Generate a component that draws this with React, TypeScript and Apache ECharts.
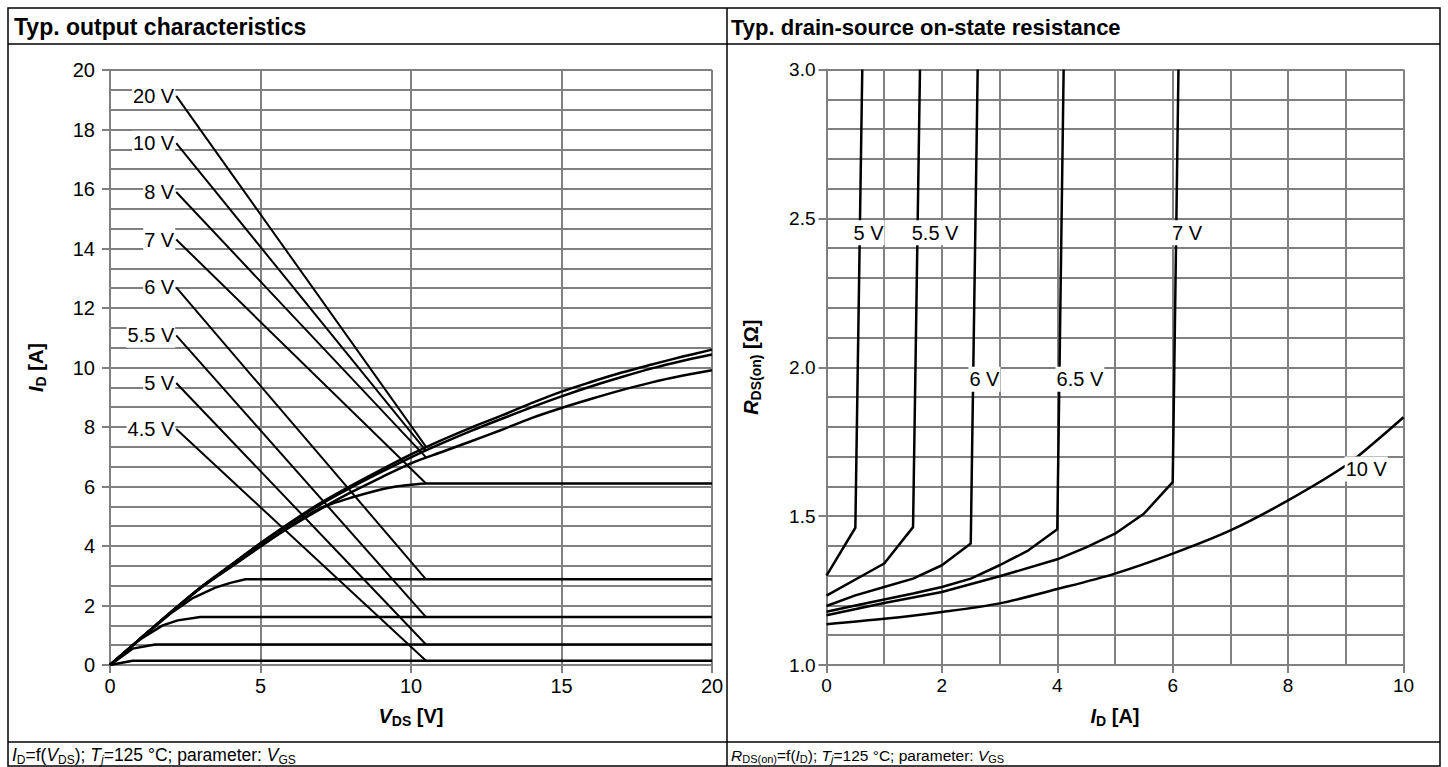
import React, { useEffect, useRef } from "react";
import * as echarts from "echarts";

const FONT = "'Liberation Sans', Arial, Helvetica, sans-serif";
const GRID_COLOR = "#808080";

// ---------------- Left chart: typ. output characteristics, ID = f(VDS) ----------------
const leftXTicks = [0, 5, 10, 15, 20];
const leftYTicks = [0, 2, 4, 6, 8, 10, 12, 14, 16, 18, 20];

const id_vgs20 = [[0, 0], [1, 0.88], [2, 1.76], [3, 2.6], [4, 3.35], [5, 4.1], [6, 4.8], [7, 5.45], [8, 6.02], [9, 6.56], [10, 7.08], [11, 7.55], [12, 7.98], [13, 8.38], [14, 8.8], [15, 9.19], [16, 9.52], [17, 9.83], [18, 10.1], [19, 10.36], [20, 10.6]];
const id_vgs10 = [[0, 0], [1, 0.88], [2, 1.76], [3, 2.6], [4, 3.34], [5, 4.08], [6, 4.77], [7, 5.4], [8, 5.96], [9, 6.48], [10, 6.98], [11, 7.44], [12, 7.87], [13, 8.27], [14, 8.66], [15, 9.03], [16, 9.37], [17, 9.68], [18, 9.97], [19, 10.22], [20, 10.44]];
const id_vgs8 = [[0, 0], [1, 0.88], [2, 1.75], [3, 2.58], [4, 3.3], [5, 4.0], [6, 4.65], [7, 5.25], [8, 5.8], [9, 6.3], [10, 6.78], [11, 7.15], [12, 7.52], [13, 7.9], [14, 8.3], [15, 8.64], [16, 8.95], [17, 9.24], [18, 9.5], [19, 9.72], [20, 9.91]];
const id_vgs7 = [[0, 0], [1, 0.88], [2, 1.75], [3, 2.58], [4, 3.28], [5, 3.98], [6, 4.68], [7, 5.28], [8, 5.62], [9, 5.9], [9.5, 6.0], [10, 6.06], [10.5, 6.1], [20, 6.1]];
const id_vgs6 = [[0, 0], [1, 0.88], [2, 1.72], [2.75, 2.25], [3.5, 2.6], [4, 2.76], [4.5, 2.88], [20, 2.88]];
const id_vgs55 = [[0, 0], [1, 0.86], [1.75, 1.33], [2.25, 1.5], [3, 1.61], [20, 1.61]];
const id_vgs5 = [[0, 0], [0.75, 0.55], [1.5, 0.69], [20, 0.69]];
const id_vgs45 = [[0, 0], [0.75, 0.14], [20, 0.14]];

const leftLabels = ["20 V", "10 V", "8 V", "7 V", "6 V", "5.5 V", "5 V", "4.5 V"];
const leaderStartX = 2.2;
const leaderStartY = [19.13, 17.54, 15.9, 14.3, 12.69, 11.08, 9.48, 7.93];
const leaderEndX = 10.5;
const leaderEndY = [7.33, 7.2, 6.98, 6.1, 2.88, 1.61, 0.69, 0.14];

// ---------------- Right chart: typ. drain-source on-state resistance, RDS(on) = f(ID) ----------------
const rightXTicks = [0, 2, 4, 6, 8, 10];
const rightYTicks = [1.0, 1.5, 2.0, 2.5, 3.0];

const r_vgs5 = [[0, 1.3], [0.5, 1.461], [0.62, 3.0]];
const r_vgs55 = [[0, 1.233], [1, 1.341], [1.5, 1.463], [1.62, 3.0]];
const r_vgs6 = [[0, 1.198], [0.5, 1.234], [1, 1.262], [1.5, 1.29], [2, 1.335], [2.5, 1.408], [2.62, 3.0]];
const r_vgs65 = [[0, 1.179], [0.5, 1.2], [1, 1.22], [1.5, 1.24], [2, 1.262], [2.5, 1.29], [3, 1.335], [3.5, 1.385], [4, 1.456], [4.11, 3.0]];
const r_vgs7 = [[0, 1.167], [1, 1.208], [2, 1.245], [3, 1.298], [4, 1.355], [4.5, 1.395], [5, 1.441], [5.5, 1.508], [6, 1.614], [6.1, 3.0]];
const r_vgs10 = [[0, 1.137], [1, 1.155], [2, 1.178], [3, 1.207], [4, 1.255], [5, 1.307], [6, 1.374], [7, 1.452], [8, 1.553], [9, 1.67], [9.5, 1.748], [10, 1.832]];

const rightLabels = ["5 V", "5.5 V", "7 V", "6 V", "6.5 V", "10 V"];
const rightLabelX = [0.45, 1.46, 5.97, 2.46, 3.97, 8.98];
const rightLabelY = [2.452, 2.452, 2.452, 1.96, 1.96, 1.658];

// ---------------- helpers ----------------
const nameRich = {
  b: { fontSize: 20, fontWeight: "bold", fontFamily: FONT, color: "#000", lineHeight: 24 },
  bi: { fontSize: 20, fontWeight: "bold", fontStyle: "italic", fontFamily: FONT, color: "#000", lineHeight: 24 },
  bs: { fontSize: 14, fontWeight: "bold", fontFamily: FONT, color: "#000", lineHeight: 16, verticalAlign: "bottom" },
};

function footRich(size: number) {
  const sub = Math.round(size * 0.7);
  return {
    n: { fontSize: size, fontFamily: FONT, color: "#000", lineHeight: size + 4 },
    i: { fontSize: size, fontStyle: "italic", fontFamily: FONT, color: "#000", lineHeight: size + 4 },
    s: { fontSize: sub, fontFamily: FONT, color: "#000", lineHeight: sub + 2, verticalAlign: "bottom" },
    si: { fontSize: sub, fontStyle: "italic", fontFamily: FONT, color: "#000", lineHeight: sub + 2, verticalAlign: "bottom" },
  };
}

function valueAxis(gridIndex: number, ticks: number[], minorSplit: number, labelSize: number, labelMargin: number, opts: any) {
  return {
    type: "value",
    gridIndex,
    min: ticks[0],
    max: ticks[ticks.length - 1],
    interval: ticks[1] - ticks[0],
    axisLine: { show: true, onZero: false, lineStyle: { color: GRID_COLOR, width: 2 } },
    axisTick: { show: true, length: 8, lineStyle: { color: GRID_COLOR, width: 2 } },
    splitLine: { show: true, lineStyle: { color: GRID_COLOR, width: 2 } },
    minorTick: { show: false, splitNumber: minorSplit },
    minorSplitLine: { show: minorSplit > 1, lineStyle: { color: GRID_COLOR, width: 2 } },
    axisLabel: { fontSize: labelSize, color: "#000", fontFamily: FONT, margin: labelMargin },
    nameLocation: "middle",
    nameTextStyle: { rich: nameRich },
    ...opts,
  };
}

function curve(data: number[][], idx: number, smooth: number | boolean = false, width = 2.5) {
  return {
    type: "line",
    xAxisIndex: idx,
    yAxisIndex: idx,
    data,
    symbol: "none",
    smooth,
    silent: true,
    lineStyle: { color: "#000", width },
    z: 3,
  };
}

function labelSeries(idx: number, names: string[], xs: number[], ys: number[], position: string, distance: number, size: number) {
  return {
    type: "scatter",
    xAxisIndex: idx,
    yAxisIndex: idx,
    symbolSize: 0,
    silent: true,
    itemStyle: { color: "#000", opacity: 1 },
    data: names.map((n, i) => ({ name: n, value: [xs[i], ys[i]] })),
    label: {
      show: true,
      position,
      distance,
      formatter: "{b}",
      fontSize: size,
      fontFamily: FONT,
      color: "#000",
      opacity: 1,
      textBorderWidth: 0,
      backgroundColor: "#fff",
      padding: [3, 1, 2, 1],
    },
    z: 6,
  };
}

function buildOption() {
  const series: any[] = [];
  // left curves
  series.push(curve(id_vgs20, 0, 0.3));
  series.push(curve(id_vgs10, 0, 0.3));
  series.push(curve(id_vgs8, 0, 0.3));
  series.push(curve(id_vgs7, 0, 0.2));
  series.push(curve(id_vgs6, 0));
  series.push(curve(id_vgs55, 0));
  series.push(curve(id_vgs5, 0));
  series.push(curve(id_vgs45, 0));
  // leader lines
  leftLabels.forEach((_, i) => {
    series.push(curve([[leaderStartX, leaderStartY[i]], [leaderEndX, leaderEndY[i]]], 0, false, 2));
  });
  series.push(labelSeries(0, leftLabels, leftLabels.map(() => leaderStartX), leaderStartY, "left", 1, 20));

  // right curves
  series.push(curve(r_vgs5, 1));
  series.push(curve(r_vgs55, 1));
  series.push(curve(r_vgs6, 1));
  series.push(curve(r_vgs65, 1));
  series.push(curve(r_vgs7, 1));
  series.push(curve(r_vgs10, 1, 0.3));
  series.push(labelSeries(1, rightLabels, rightLabelX, rightLabelY, "right", 0, 20));

  return {
    animation: false,
    backgroundColor: "#fff",
    grid: [
      { left: 110, top: 70, width: 602, height: 595, containLabel: false },
      { left: 826.5, top: 69.5, width: 577, height: 595.5, containLabel: false },
    ],
    xAxis: [
      valueAxis(0, leftXTicks, 1, 20, 11, { name: "{bi|V}{bs|DS}{b| [V]}", nameGap: 39 }),
      valueAxis(1, rightXTicks, 2, 19, 11, { name: "{bi|I}{bs|D}{b| [A]}", nameGap: 39 }),
    ],
    yAxis: [
      valueAxis(0, leftYTicks, 3, 20, 15, { name: "{bi|I}{bs|D}{b| [A]}", nameGap: 62 }),
      valueAxis(1, rightYTicks, 5, 19, 11, {
        name: "{bi|R}{bs|DS(on)}{b| [Ω]}",
        nameGap: 64,
        axisLabel: { fontSize: 19, color: "#000", fontFamily: FONT, margin: 11, formatter: (v: number) => v.toFixed(1) },
      }),
    ],
    series,
    graphic: [
      { type: "rect", shape: { x: 8, y: 8, width: 1432, height: 758 }, style: { fill: "none", stroke: "#000", lineWidth: 1.5 }, z: 10 },
      { type: "line", shape: { x1: 727, y1: 8, x2: 727, y2: 766 }, style: { stroke: "#000", lineWidth: 1.5 }, z: 10 },
      { type: "line", shape: { x1: 8, y1: 44, x2: 1440, y2: 44 }, style: { stroke: "#000", lineWidth: 1.5 }, z: 10 },
      { type: "line", shape: { x1: 8, y1: 742, x2: 1440, y2: 742 }, style: { stroke: "#000", lineWidth: 1.5 }, z: 10 },
      {
        type: "text", x: 14, y: 27, z: 10,
        style: { text: "Typ. output characteristics", fontSize: 23, fontWeight: "bold", fontFamily: FONT, fill: "#000", verticalAlign: "middle", align: "left" },
      },
      {
        type: "text", x: 731, y: 27, z: 10,
        style: { text: "Typ. drain-source on-state resistance", fontSize: 22, fontWeight: "bold", fontFamily: FONT, fill: "#000", verticalAlign: "middle", align: "left" },
      },
      {
        type: "text", x: 12, y: 755, z: 10,
        style: {
          text: "{i|I}{s|D}{n|=f(}{i|V}{s|DS}{n|); }{i|T}{si|j}{n|=125 °C; parameter: }{i|V}{s|GS}",
          rich: footRich(17.5), verticalAlign: "middle", align: "left", fontFamily: FONT, fontSize: 17.5, fill: "#000",
        },
      },
      {
        type: "text", x: 731, y: 755, z: 10,
        style: {
          text: "{i|R}{s|DS(on)}{n|=f(}{i|I}{s|D}{n|); }{i|T}{si|j}{n|=125 °C; parameter: }{i|V}{s|GS}",
          rich: footRich(15.5), verticalAlign: "middle", align: "left", fontFamily: FONT, fontSize: 15.5, fill: "#000",
        },
      },
    ],
  };
}

export default function App() {
  const ref = useRef<HTMLDivElement>(null);
  useEffect(() => {
    if (!ref.current) return;
    const chart = echarts.init(ref.current, undefined, { renderer: "svg" });
    chart.setOption(buildOption() as any);
    return () => chart.dispose();
  }, []);
  return (
    <div
      ref={ref}
      style={{ position: "absolute", left: 0, top: 0, width: 1448, height: 767, background: "#fff" }}
    />
  );
}
